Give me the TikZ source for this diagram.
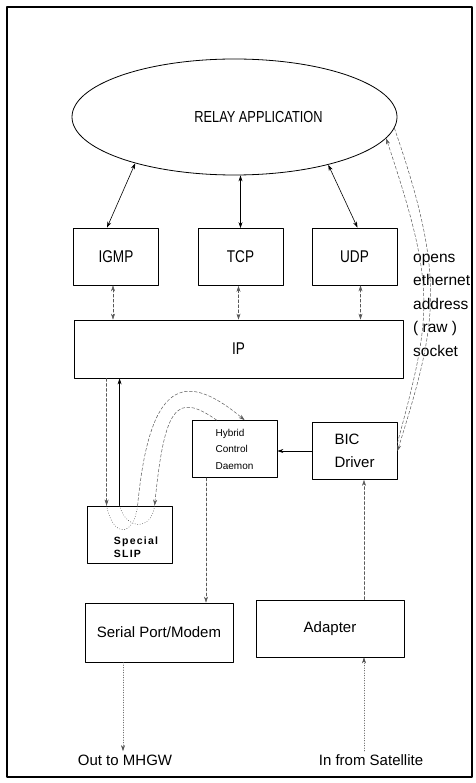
\documentclass[tikz,border=0pt]{standalone}
\usepackage{fontspec}
\setmainfont{Liberation Sans}
\newfontfamily\condfont[FakeStretch=0.8]{Liberation Sans}
\usetikzlibrary{shapes.geometric,arrows.meta}

\tikzset{
  box/.style={draw, line width=0.8pt, inner sep=0pt, minimum width=85pt, minimum height=57pt, align=center},
  capfont/.style={font=\condfont\fontsize{17}{19}\selectfont},
  txtfont/.style={font=\fontsize{15}{23}\selectfont},
  link/.style={line width=0.6pt},
  dlink/.style={line width=0.5pt, densely dashed, black!65},
  dotlink/.style={line width=0.5pt, dotted, black!70},
}

\begin{document}
\begin{tikzpicture}[x=1pt, y=-1pt, line join=round, line cap=round, >={Stealth[length=6pt,width=4pt]}]
\useasboundingbox (0,0) rectangle (475,783);
\draw[line width=1.1pt] (7,7) rectangle (472,777);

% layers
\node[ellipse, draw, line width=0.8pt, minimum width=325pt, minimum height=116pt, font=\condfont\fontsize{16}{18}\selectfont] (relay) at (234.5,117) {\hspace*{48pt}RELAY APPLICATION};
\node[box, capfont] (igmp) at (116,256.5) {IGMP};
\node[box, capfont] (tcp) at (240.5,257) {TCP};
\node[box, capfont] (udp) at (354.5,256.5) {UDP};
\node[box, capfont, minimum width=329pt, minimum height=58pt] (ip) at (238.5,349) {IP};
\node[box, align=left, font=\fontsize{10}{16.5}\selectfont] (hybrid) at (234.5,449) {Hybrid\\Control\\Daemon};
\node[box, align=left, txtfont] (bic) at (354.5,451) {BIC\\Driver};
\node[box] (slip) at (129.5,534.5) {};
\node[align=left, inner sep=0pt, font=\fontsize{10.5}{13}\bfseries\addfontfeature{LetterSpace=12}] (sliptext) at (136,547) {Special\\SLIP};
\node[box, txtfont, minimum width=148pt, minimum height=59pt] (serial) at (159,632.5) {Serial Port/Modem};
\node[box, txtfont, minimum width=148pt] (adapter) at (330,628.5) {Adapter};
\node[txtfont] (mhgw) at (125,760) {Out to MHGW};
\node[txtfont] (sat) at (371,760) {In from Satellite};
\node[anchor=west, align=left, inner sep=0pt, font=\fontsize{15.5}{23.5}\selectfont] (sock) at (413,305) {opens\\ethernet\\address\\( raw )\\socket};

% application <-> protocols
\draw[link,<->] (relay.205) -- ([xshift=-9pt]igmp.north);
\draw[link,<->] (relay.south -| tcp.north) -- (tcp.north);
\draw[link,<->] (relay.333) -- ([xshift=3pt]udp.north);

% protocols <-> IP
\draw[dlink,<->] ([xshift=-3pt]igmp.south) -- ([xshift=-3pt]igmp.south |- ip.north);
\draw[dlink,<->] ([xshift=-2pt]tcp.south) -- ([xshift=-2pt]tcp.south |- ip.north);
\draw[dlink,<->] ([xshift=6pt]udp.south) -- ([xshift=6pt]udp.south |- ip.north);

% IP <-> special SLIP
\draw[dlink,->] ([xshift=33pt]ip.south west) -- ([xshift=20pt]slip.north west);
\draw[link,->] ([xshift=33pt]slip.north west) -- ([xshift=46pt]ip.south west);
\draw[dlink,->] ([xshift=51pt]slip.north west) .. controls +(12,-126) and +(-60,-50) .. ([xshift=53pt]hybrid.north west);
\draw[dlink,->] ([xshift=25pt]hybrid.north west) .. controls +(-40,-28) and +(10,-100) .. ([xshift=68pt]slip.north west);
\draw[dotlink] ([xshift=20pt]slip.north west) .. controls +(6,32) and +(-4,32) .. ([xshift=51pt]slip.north west);
\draw[dotlink] ([xshift=33pt]slip.north west) .. controls +(6,24) and +(-3,26) .. ([xshift=68pt]slip.north west);

% driver side
\draw[link,->] (bic.west) -- (bic.west -| hybrid.east);
\draw[dlink,->] ([xshift=-28.5pt]hybrid.south) -- ([xshift=-28.5pt]hybrid.south |- serial.north);
\draw[dlink,->] ([xshift=34pt]adapter.north) -- ([xshift=34pt]adapter.north |- bic.south);
\draw[dotlink,->] ([xshift=-36pt]serial.south) -- ([xshift=-36pt]serial.south |- mhgw.north);
\draw[dotlink,->] ([xshift=34pt]adapter.south |- sat.north) -- ([xshift=34pt]adapter.south);

% raw socket
\draw[dlink,->] ([yshift=8pt]bic.east) .. controls +(35,-130) and +(50,150) .. (relay.352);
\draw[dlink,->] (relay.356) .. controls +(52,150) and +(40,-128) .. (bic.east);
\end{tikzpicture}
\end{document}
